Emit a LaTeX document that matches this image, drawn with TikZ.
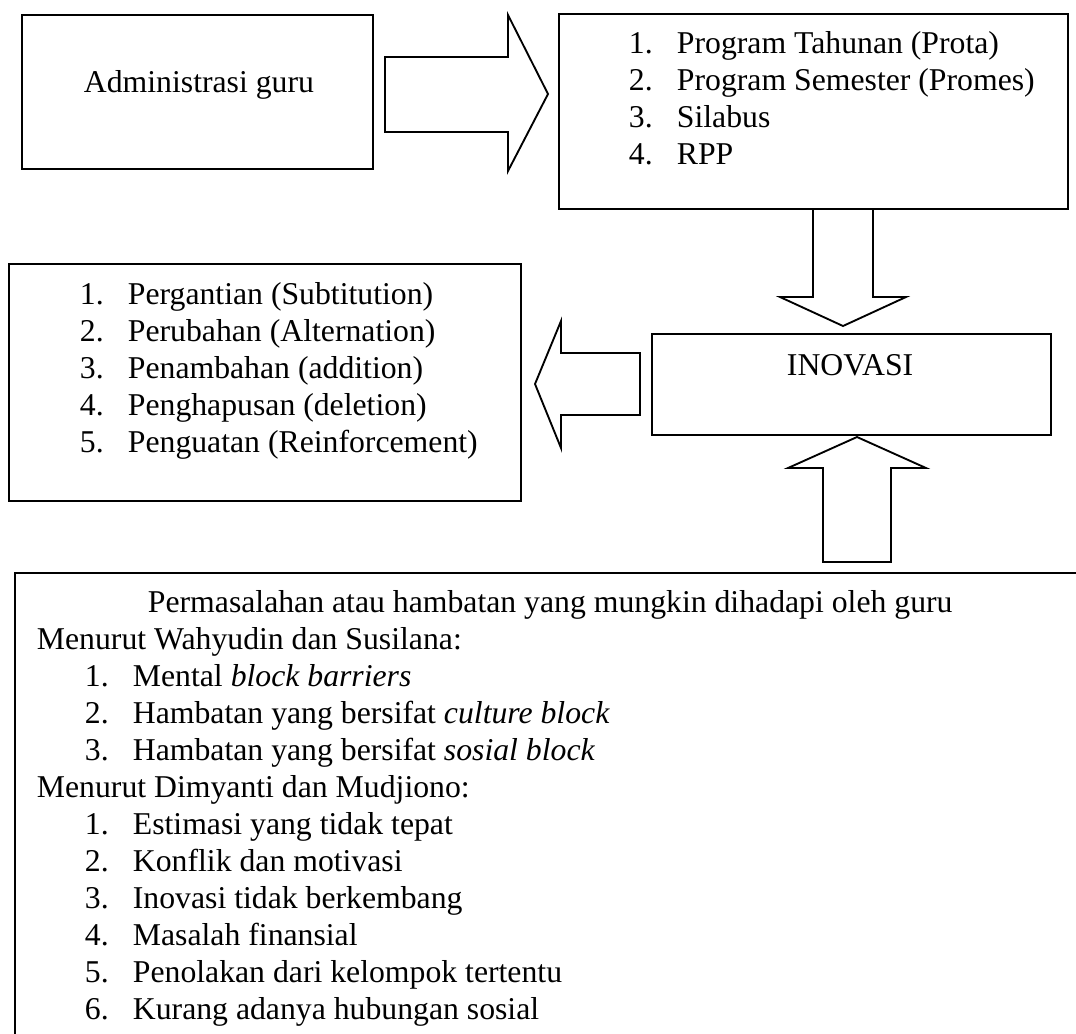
\documentclass[tikz,border=0pt]{standalone}
\usepackage{fontspec}
\setmainfont{Liberation Serif}
\usetikzlibrary{positioning,fit}

\newcommand{\nr}[1]{\makebox[18pt][l]{#1.}}

\begin{document}
\begin{tikzpicture}[x=0.375pt,y=-0.375pt,line width=0.7pt,
  box/.style={draw,rectangle,inner sep=0pt},
  txt/.style={anchor=base west,inner sep=0pt,font=\fontsize{11.9pt}{13.9pt}\selectfont},
  blockarrow/.style={draw,line join=miter}]
  \clip (0,0) rectangle (1076,1033);
  % boxes
  \path
  node[box,fit={(22,15) (373,169)}] (admin) {}
  node[box,fit={(559,14) (1068,209)}] (prog) {}
  node[box,fit={(9,264) (521,501)}] (ubah) {}
  node[box,fit={(652,334) (1051,435)}] (inov) {}
  node[box,fit={(15,573) (1100,1060)}] (masalah) {}
  ;
  % texts
  \node[txt] (admint) at (83,92) {Administrasi guru};
  \node[txt] (inovt) at (786,375) {INOVASI};
  \foreach \t [count=\i] in {Program Tahunan (Prota),Program Semester (Promes),Silabus,RPP}
    \node[txt] (prog\i) at (628,53+37*\i-37) {\nr{\i}\t};
  \foreach \t [count=\i] in {Pergantian (Subtitution),Perubahan (Alternation),Penambahan (addition),Penghapusan (deletion),Penguatan (Reinforcement)}
    \node[txt] (ubah\i) at (79,304+37*\i-37) {\nr{\i}\t};
  \node[txt] (masalaht) at (147,612) {Permasalahan atau hambatan yang mungkin dihadapi oleh guru};
  \node[txt] (wahyu) at (36,649) {Menurut Wahyudin dan Susilana:};
  \foreach \t [count=\i] in {Mental \textit{block barriers},Hambatan yang bersifat \textit{culture block},Hambatan yang bersifat \textit{sosial block}}
    \node[txt] (wahyu\i) at (84,649+37*\i) {\nr{\i}\t};
  \node[txt] (dimy) at (36,797) {Menurut Dimyanti dan Mudjiono:};
  \foreach \t [count=\i] in {Estimasi yang tidak tepat,Konflik dan motivasi,Inovasi tidak berkembang,Masalah finansial,Penolakan dari kelompok tertentu,Kurang adanya hubungan sosial}
    \node[txt] (dimy\i) at (84,797+37*\i) {\nr{\i}\t};
  % block arrows
  \draw[blockarrow] (385,57) -- (508,57) -- (508,15) -- (548,94) -- (508,171) -- (508,132) -- (385,132) -- cycle;
  \draw[blockarrow] (813,209) -- (813,297) -- (780,297) -- (843,326) -- (906,297) -- (873,297) -- (873,209);
  \draw[blockarrow] (640,353) -- (561,353) -- (561,321) -- (535,384) -- (561,448) -- (561,415) -- (640,415) -- cycle;
  \draw[blockarrow] (823,562) -- (823,468) -- (788,468) -- (857,437) -- (926,468) -- (891,468) -- (891,562) -- cycle;
\end{tikzpicture}
\end{document}
